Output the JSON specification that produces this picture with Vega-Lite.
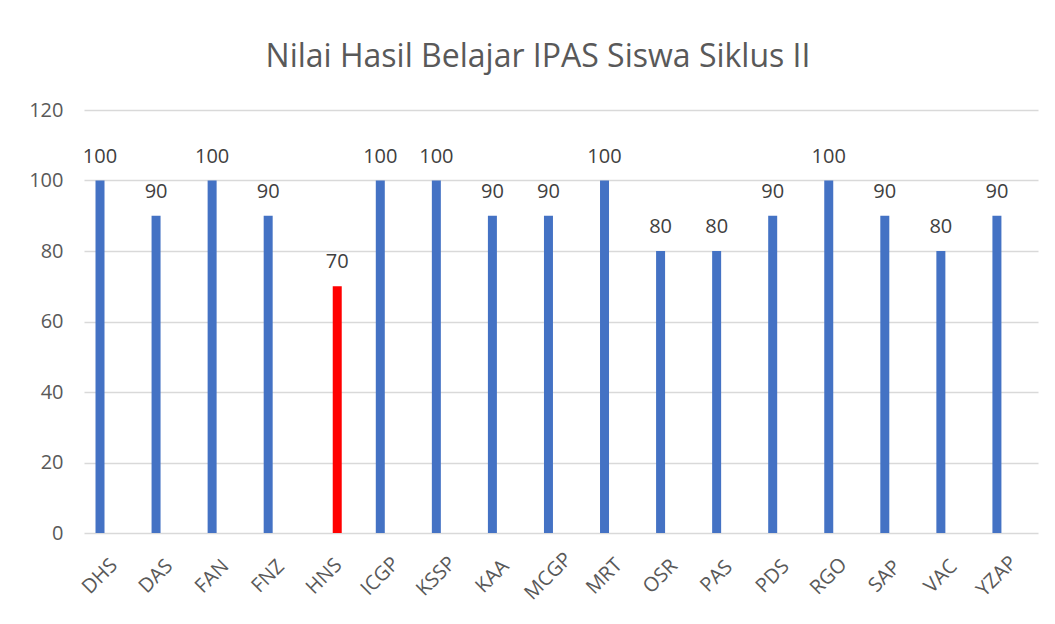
{
  "$schema": "https://vega.github.io/schema/vega-lite/v6.json",
  "width": 954,
  "height": 423,
  "autosize": {"type": "none"},
  "padding": {"left": 84, "top": 110, "right": 17, "bottom": 91},
  "background": "white",
  "config": {
    "font": "Open Sans",
    "view": {"stroke": null}
  },
  "title": {
    "text": "Nilai Hasil Belajar IPAS Siswa Siklus II",
    "fontSize": 32,
    "fontWeight": "normal",
    "color": "#595959",
    "anchor": "middle",
    "frame": "group",
    "dx": -23,
    "baseline": "bottom",
    "offset": -6
  },
  "data": {
    "values": [
      {"nama": "DHS", "nilai": 100, "seri": "Tuntas"},
      {"nama": "DAS", "nilai": 90, "seri": "Tuntas"},
      {"nama": "FAN", "nilai": 100, "seri": "Tuntas"},
      {"nama": "FNZ", "nilai": 90, "seri": "Tuntas"},
      {"nama": "HNS", "nilai": 70, "seri": "Belum Tuntas"},
      {"nama": "ICGP", "nilai": 100, "seri": "Tuntas"},
      {"nama": "KSSP", "nilai": 100, "seri": "Tuntas"},
      {"nama": "KAA", "nilai": 90, "seri": "Tuntas"},
      {"nama": "MCGP", "nilai": 90, "seri": "Tuntas"},
      {"nama": "MRT", "nilai": 100, "seri": "Tuntas"},
      {"nama": "OSR", "nilai": 80, "seri": "Tuntas"},
      {"nama": "PAS", "nilai": 80, "seri": "Tuntas"},
      {"nama": "PDS", "nilai": 90, "seri": "Tuntas"},
      {"nama": "RGO", "nilai": 100, "seri": "Tuntas"},
      {"nama": "SAP", "nilai": 90, "seri": "Tuntas"},
      {"nama": "VAC", "nilai": 80, "seri": "Tuntas"},
      {"nama": "YZAP", "nilai": 90, "seri": "Tuntas"}
    ]
  },
  "encoding": {
    "x": {
      "field": "nama",
      "type": "nominal",
      "sort": null,
      "scale": {"paddingInner": 0.6076, "paddingOuter": 0.313, "align": 0.328},
      "axis": {
        "title": null,
        "domain": false,
        "ticks": false,
        "labelAngle": -45,
        "labelAlign": "center",
        "labelBaseline": "middle",
        "labelPadding": 43,
        "labelFontSize": 20,
        "labelColor": "#595959",
        "labelOffset": -6.5
      }
    },
    "xOffset": {
      "field": "seri",
      "type": "nominal",
      "scale": {"domain": ["Tuntas", "Belum Tuntas"], "paddingInner": 0.3077, "paddingOuter": 0}
    },
    "y": {
      "field": "nilai",
      "type": "quantitative",
      "scale": {"domain": [0, 120], "nice": false},
      "axis": {
        "title": null,
        "values": [0, 20, 40, 60, 80, 100, 120],
        "domain": false,
        "ticks": false,
        "grid": true,
        "gridColor": "#d9d9d9",
        "gridWidth": 1.5,
        "labelPadding": 21,
        "labelFontSize": 20,
        "labelColor": "#595959"
      }
    }
  },
  "layer": [
    {
      "mark": {"type": "bar"},
      "encoding": {
        "color": {
          "field": "seri",
          "type": "nominal",
          "scale": {"domain": ["Tuntas", "Belum Tuntas"], "range": ["#4472C4", "#FF0000"]},
          "legend": null
        }
      }
    },
    {
      "mark": {"type": "text", "baseline": "alphabetic", "dy": -18, "fontSize": 20, "color": "#404040"},
      "encoding": {"text": {"field": "nilai", "type": "quantitative"}}
    }
  ]
}
